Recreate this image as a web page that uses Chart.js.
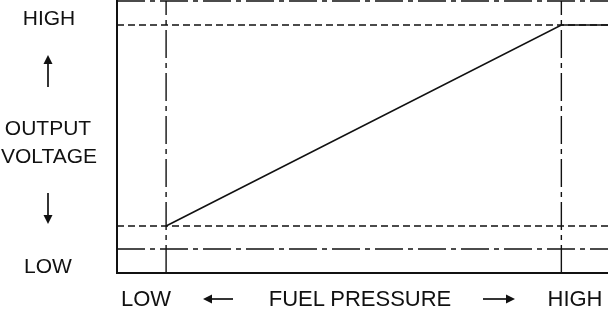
<!DOCTYPE html>
<html>
<head>
<meta charset="utf-8">
<script src="https://cdn.jsdelivr.net/npm/chart.js@4/dist/chart.umd.min.js"></script>
<style>
  html, body { margin: 0; padding: 0; background: #fff; }
  #wrap { position: relative; width: 608px; height: 312px; overflow: hidden; }
  #chart { position: absolute; left: 0; top: 0; }
  .lbl {
    position: absolute;
    font-family: "Liberation Sans", Arial, sans-serif;
    font-size: 21px;
    line-height: 1;
    color: #111;
    white-space: nowrap;
    transform: translate(-50%, -50%);
  }
  .bot { font-size: 22px; }
</style>
</head>
<body>
<div id="wrap">
  <canvas id="chart" width="608" height="312"></canvas>
  <div class="lbl" style="left:49px;top:17px">HIGH</div>
  <div class="lbl" style="left:48px;top:127px">OUTPUT</div>
  <div class="lbl" style="left:49px;top:155px">VOLTAGE</div>
  <div class="lbl" style="left:48px;top:265px">LOW</div>
  <div class="lbl bot" style="left:146px;top:299px">LOW</div>
  <div class="lbl bot" style="left:360px;top:299px">FUEL PRESSURE</div>
  <div class="lbl bot" style="left:575px;top:299px">HIGH</div>
</div>
<script>
// ── Data (0..100 relative units) ───────────────────────────────────────────
const pressure = [10, 90.5, 100];        // fuel pressure points
const voltage  = [17.3, 91.2, 91.2];     // output voltage at those points
const dashedLevels  = [17.3, 91.2];      // dashed horizontal guides
const dashDotLevels = [8.8, 100];        // dash-dot horizontal guides
const dashDotX      = [10, 90.5];        // dash-dot vertical guides

const INK = "#111";
const DASH = [7, 4];
const DASH_DOT = [28, 5, 5, 5];

function hLine(y, dash) {
  return {
    data: [{ x: 0, y }, { x: 100, y }],
    borderColor: INK, borderWidth: 1.4, borderDash: dash,
    pointRadius: 0, clip: false,
  };
}
function vLine(x, dash) {
  return {
    data: [{ x, y: 0 }, { x, y: 100 }],
    borderColor: INK, borderWidth: 1.4, borderDash: dash,
    pointRadius: 0, clip: false,
  };
}

const datasets = [
  ...dashedLevels.map((v) => hLine(v, DASH)),
  ...dashDotLevels.map((v) => hLine(v, DASH_DOT)),
  ...dashDotX.map((v) => vLine(v, DASH_DOT)),
  {
    data: pressure.map((x, i) => ({ x, y: voltage[i] })),
    borderColor: INK, borderWidth: 1.6,
    pointRadius: 0, clip: false,
  },
];

// ── Arrows beside the labels ───────────────────────────────────────────────
function arrow(ctx, x1, y1, x2, y2) {
  const a = Math.atan2(y2 - y1, x2 - x1);
  const len = 9, half = 4.5;
  const bx = x2 - len * Math.cos(a), by = y2 - len * Math.sin(a);
  ctx.beginPath();
  ctx.moveTo(x1, y1);
  ctx.lineTo(bx, by);
  ctx.stroke();
  ctx.beginPath();
  ctx.moveTo(x2, y2);
  ctx.lineTo(bx + half * Math.sin(a), by - half * Math.cos(a));
  ctx.lineTo(bx - half * Math.sin(a), by + half * Math.cos(a));
  ctx.closePath();
  ctx.fill();
}

const arrowPlugin = {
  id: "arrows",
  afterDraw(chart) {
    const ctx = chart.ctx;
    ctx.save();
    ctx.strokeStyle = INK;
    ctx.fillStyle = INK;
    ctx.lineWidth = 1.7;
    arrow(ctx, 48, 87, 48, 55);
    arrow(ctx, 48, 193, 48, 224);
    arrow(ctx, 233, 299, 203, 299);
    arrow(ctx, 483, 299, 515, 299);
    ctx.restore();
  },
};

new Chart(document.getElementById("chart"), {
  type: "line",
  data: { datasets },
  plugins: [arrowPlugin],
  options: {
    responsive: false,
    animation: false,
    layout: { padding: { left: 117, top: 1, right: 0, bottom: 39 } },
    plugins: { legend: { display: false }, tooltip: { enabled: false } },
    scales: {
      x: {
        type: "linear", min: 0, max: 100,
        ticks: { display: false },
        grid: { display: false, drawTicks: false },
        border: { display: true, color: INK, width: 2 },
      },
      y: {
        type: "linear", min: 0, max: 100,
        ticks: { display: false },
        grid: { display: false, drawTicks: false },
        border: { display: true, color: INK, width: 2 },
      },
    },
  },
});
</script>
</body>
</html>
